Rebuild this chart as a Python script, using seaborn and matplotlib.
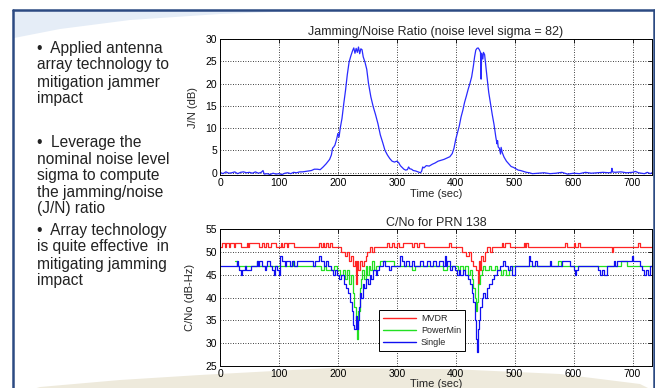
import matplotlib
matplotlib.use("Agg")
import matplotlib.pyplot as plt
from matplotlib.lines import Line2D
from matplotlib.patches import Polygon
import pandas as pd
import seaborn as sns

# J/N ratio (dB): (time sec, value)
jn_points = [
    (0, 0.1), (5, -0.2), (10, 0.2), (15, -0.1), (20, 0.0), (25, 0.2), (30, -0.2), (35, 0.1),
    (40, 0.2), (45, 0.0), (50, 0.1), (55, -0.1), (60, 0.2), (65, -0.1), (70, 0.1), (73, 0.5),
    (75, -0.3), (80, -0.2), (85, -0.4), (90, -0.1), (95, -0.3), (100, -0.2), (105, -0.4),
    (110, -0.1), (115, 0.0), (120, -0.2), (125, 0.1), (130, 0.0), (135, 0.2), (140, 0.2),
    (145, 0.3), (150, 0.4), (155, 0.5), (160, 0.8), (165, 0.8), (170, 0.7), (175, 1.3),
    (180, 2.0), (186, 3.0), (189, 4.0), (191, 5.5), (193, 5.8), (195, 6.2), (198, 7.6),
    (200, 8.8), (202, 8.0), (204, 10.0), (207, 12.2), (210, 15.5), (213, 18.5), (216, 22.0),
    (219, 24.8), (222, 26.2), (225, 27.4), (227, 28.0), (229, 26.8), (231, 27.9), (233, 27.0),
    (235, 28.2), (237, 26.7), (239, 27.8), (241, 27.6), (243, 26.0), (246, 24.8), (249, 23.2),
    (252, 20.0), (256, 17.0), (260, 14.8), (264, 13.0), (268, 11.0), (272, 8.5), (276, 6.8),
    (280, 5.0), (284, 4.0), (288, 3.2), (292, 2.6), (296, 2.4), (300, 2.6), (303, 2.3),
    (306, 1.6), (309, 1.2), (312, 0.8), (315, 0.6), (318, 0.7), (320, 1.3), (322, 0.9),
    (325, 0.8), (328, 0.5), (332, 0.4), (336, 0.2), (340, 0.0), (342, 0.3), (344, 1.3),
    (346, 1.1), (350, 1.6), (355, 1.5), (360, 1.9), (365, 2.2), (370, 2.6), (375, 2.8),
    (380, 3.0), (385, 3.3), (390, 3.6), (394, 4.3), (397, 5.5), (400, 7.5), (403, 9.0),
    (406, 10.5), (409, 12.5), (412, 14.0), (415, 15.8), (418, 17.2), (421, 18.7), (424, 20.0),
    (427, 21.5), (430, 24.0), (432, 26.0), (434, 27.5), (436, 27.9), (438, 28.0), (440, 27.6),
    (442, 27.0), (443, 21.0), (444, 26.8), (446, 25.5), (447, 27.0), (449, 26.5), (451, 24.0),
    (453, 21.5), (456, 18.0), (459, 15.5), (462, 13.0), (465, 10.8), (468, 8.0), (470, 6.5),
    (471, 7.2), (472, 5.8), (474, 5.5), (476, 4.2), (477, 5.7), (479, 4.5), (482, 3.5),
    (486, 2.6), (490, 2.0), (494, 1.4), (498, 1.2), (502, 0.9), (506, 0.6), (510, 0.5),
    (515, 0.3), (520, 0.1), (525, 0.0), (530, -0.2), (540, -0.1), (550, 0.0), (560, -0.2),
    (570, -0.1), (580, 0.1), (590, -0.3), (600, -0.1), (610, -0.2), (620, 0.1), (630, -0.1),
    (640, 0.0), (650, 0.1), (660, 0.0), (664, 0.1), (665, 1.0), (666, 0.2), (670, 0.1),
    (680, 0.2), (690, 0.0), (700, 0.1), (705, 0.3), (710, 0.0), (720, -0.2), (725, 0.1),
    (730, -0.2), (733, 0.0),
]

# C/No (dB-Hz) step series for PRN 138: (time sec, value)
mvdr_points = [
    (0, 51), (3, 52), (8, 51), (10, 52), (15, 51), (17, 52), (23, 51), (25, 52), (35, 51),
    (45, 52), (48, 51), (50, 52), (66, 51), (72, 52), (75, 51), (78, 52), (82, 51), (86, 52),
    (95, 51), (103, 52), (106, 51), (109, 52), (114, 51), (116, 52), (126, 51), (168, 52),
    (171, 51), (174, 52), (177, 51), (180, 52), (183, 51), (186, 52), (190, 51), (205, 50),
    (212, 49), (216, 50), (219, 48), (222, 49), (226, 47), (229, 48), (231, 43), (233, 48),
    (235, 46), (238, 48), (241, 47), (244, 48), (247, 49), (250, 50), (254, 51), (258, 50),
    (262, 51), (284, 52), (287, 51), (292, 52), (296, 51), (300, 52), (304, 51), (310, 52),
    (326, 51), (329, 52), (334, 51), (338, 52), (346, 51), (389, 52), (392, 51), (410, 50),
    (418, 49), (423, 50), (426, 48), (430, 47), (434, 46), (437, 43), (439, 48), (441, 46),
    (443, 49), (446, 48), (449, 50), (453, 51), (458, 50), (461, 51), (478, 52), (481, 51),
    (484, 52), (492, 51), (515, 52), (518, 51), (520, 52), (523, 51), (586, 52), (588, 51),
    (600, 52), (602, 51), (608, 52), (610, 51), (665, 50), (667, 51), (710, 52), (713, 51),
    (733, 51),
]
powermin_points = [
    (25, 48), (28, 47), (58, 47), (62, 48), (64, 47), (120, 47), (124, 48), (126, 47),
    (171, 46), (176, 47), (180, 46), (194, 47), (198, 46), (204, 45), (208, 46), (212, 44),
    (216, 46), (219, 43), (222, 45), (225, 41), (228, 38), (231, 35), (233, 31), (235, 37),
    (237, 42), (239, 44), (241, 46), (244, 44), (247, 47), (249, 45), (252, 47), (255, 46),
    (258, 48), (261, 46), (264, 47), (272, 48), (296, 47), (326, 46), (331, 47), (378, 46),
    (386, 47), (404, 46), (408, 47), (412, 46), (416, 47), (420, 45), (424, 46), (427, 44),
    (430, 42), (432, 40), (434, 37), (436, 39), (438, 43), (441, 45), (444, 46), (447, 47),
    (450, 46), (456, 47), (460, 46), (466, 47), (470, 46), (476, 45), (480, 46), (486, 45),
    (490, 46), (496, 47), (574, 48), (578, 47), (680, 48), (690, 47), (733, 47),
]
single_points = [
    (0, 47), (28, 48), (31, 47), (33, 46), (36, 45), (38, 46), (42, 47), (44, 46), (52, 47),
    (62, 48), (65, 47), (67, 48), (72, 47), (76, 46), (78, 47), (80, 48), (84, 47), (88, 46),
    (91, 45), (93, 47), (96, 46), (100, 45), (102, 49), (106, 48), (110, 47), (112, 48),
    (118, 47), (122, 48), (126, 47), (130, 48), (158, 47), (162, 48), (168, 49), (172, 48),
    (176, 47), (180, 48), (184, 47), (188, 46), (192, 45), (195, 46), (198, 45), (202, 44),
    (206, 45), (210, 43), (214, 42), (218, 41), (221, 39), (224, 37), (226, 34), (228, 33),
    (230, 36), (232, 33), (234, 35), (236, 38), (238, 41), (240, 40), (242, 43), (245, 42),
    (248, 44), (251, 43), (254, 45), (257, 44), (260, 46), (264, 45), (267, 46), (270, 47),
    (276, 48), (280, 47), (286, 46), (290, 47), (305, 49), (308, 48), (312, 47), (316, 48),
    (320, 47), (326, 48), (330, 47), (340, 48), (344, 47), (352, 48), (356, 47), (362, 48),
    (366, 47), (372, 48), (378, 47), (381, 49), (383, 47), (386, 48), (390, 46), (394, 47),
    (398, 46), (402, 45), (405, 46), (408, 45), (412, 46), (416, 45), (420, 44), (424, 43),
    (427, 41), (430, 39), (432, 35), (434, 31), (436, 28), (438, 33), (440, 35), (442, 38),
    (444, 40), (447, 41), (450, 40), (453, 42), (457, 43), (461, 44), (465, 45), (470, 46),
    (475, 47), (480, 48), (484, 47), (488, 46), (492, 47), (496, 45), (500, 47), (524, 49),
    (526, 48), (530, 47), (534, 48), (538, 47), (560, 48), (562, 47), (580, 48), (594, 47),
    (600, 46), (602, 45), (604, 46), (607, 47), (642, 46), (645, 45), (648, 46), (652, 45),
    (656, 47), (668, 48), (670, 47), (673, 48), (699, 49), (701, 48), (713, 47), (716, 46),
    (719, 45), (722, 46), (727, 45), (729, 47), (733, 47),
]

methods = ["MVDR", "PowerMin", "Single"]
method_colors = ["#ff2424", "#22e022", "#1010f0"]

bullets = [
    ["\u2022  Applied antenna", "array technology to", "mitigation jammer", "impact"],
    ["\u2022  Leverage the", "nominal noise level", "sigma to compute", "the jamming/noise", "(J/N) ratio"],
    ["\u2022  Array technology", "is quite effective  in", "mitigating jamming", "impact"],
]

sns.set_style("white")
plt.rcParams["font.family"] = ["Liberation Sans", "DejaVu Sans"]

jn_df = pd.DataFrame(jn_points, columns=["time", "jn"])
frames = []
for name, pts in zip(methods, [mvdr_points, powermin_points, single_points]):
    d = pd.DataFrame(pts, columns=["time", "cno"])
    d["method"] = name
    frames.append(d)
cno_df = pd.concat(frames, ignore_index=True)

W, H = 655, 388
fig = plt.figure(figsize=(W / 100, H / 100), dpi=100)
fig.patch.set_facecolor("white")


def fx(px):
    return px / W


def fy(py):
    return 1 - py / H


# slide decoration: light blue swoosh, beige swoosh, dark frame
blue_swoosh = [(14, 11), (300, 11), (220, 14), (130, 20), (60, 29), (14, 38)]
fig.patches.append(Polygon([(fx(x), fy(y)) for x, y in blue_swoosh], closed=True,
                           transform=fig.transFigure, facecolor="#e5edf7", edgecolor="none", zorder=-2))
beige_swoosh = [(30, 390), (40, 387), (120, 380), (200, 375), (330, 368), (450, 369),
                (560, 374), (640, 384), (652, 390)]
fig.patches.append(Polygon([(fx(x), fy(y)) for x, y in beige_swoosh], closed=True,
                           transform=fig.transFigure, facecolor="#eeeadc", edgecolor="none", zorder=-2))
frame_color = "#2c4a82"
fig.add_artist(Line2D([fx(13), fx(13)], [fy(10), fy(390)], color=frame_color, lw=1.8))
fig.add_artist(Line2D([fx(13), fx(654)], [fy(10), fy(10)], color=frame_color, lw=1.8))
fig.add_artist(Line2D([fx(653.5), fx(653.5)], [fy(10), fy(390)], color=frame_color, lw=1.8))

# bullet text
line_ys = [[48, 65, 82, 98], [143, 160, 176, 193, 209], [230, 247, 264, 281]]
for lines, ys in zip(bullets, line_ys):
    for txt, y in zip(lines, ys):
        fig.text(fx(37), fy(y), txt, fontsize=11.2, color="#222222", va="center", ha="left")

ax1 = fig.add_axes([fx(220), fy(175), 432 / W, 136 / H])
ax2 = fig.add_axes([fx(220), fy(366), 432 / W, 137 / H])

sns.lineplot(data=jn_df, x="time", y="jn", ax=ax1, color="#2a2aff", lw=0.9,
             estimator=None, errorbar=None)

sns.lineplot(data=cno_df, x="time", y="cno", hue="method", hue_order=methods,
             palette=method_colors, ax=ax2, lw=0.9, drawstyle="steps-post",
             estimator=None, errorbar=None, legend=False)

for ax in (ax1, ax2):
    ax.set_xlim(0, 733)
    ax.set_xticks(range(0, 701, 100))
    ax.grid(True, color="black", linestyle=(0, (1, 2)), linewidth=0.6)
    ax.tick_params(direction="in", length=3, width=0.6, labelsize=7.5, pad=2,
                   top=True, right=True, colors="black")
    for s in ax.spines.values():
        s.set_color("black")
        s.set_linewidth(0.7)
    ax.set_facecolor("white")

ax1.set_xlabel("Time (sec)", fontsize=8, labelpad=1)
ax2.set_xlabel("Time (sec)", fontsize=8, labelpad=0)

ax1.set_ylim(-0.5, 30)
ax1.set_yticks(range(0, 31, 5))
ax1.set_ylabel("J/N (dB)", fontsize=8)
ax1.yaxis.set_label_coords(-0.05, 0.5)
ax1.set_title("Jamming/Noise Ratio (noise level sigma = 82)", fontsize=9, pad=3)

ax2.set_ylim(25, 55)
ax2.set_yticks(range(25, 56, 5))
ax2.set_ylabel("C/No (dB-Hz)", fontsize=8)
ax2.yaxis.set_label_coords(-0.057, 0.5)
ax2.set_title("C/No for PRN 138", fontsize=9, pad=2)

handles = [Line2D([0], [0], color=c, lw=1) for c in method_colors]
leg = ax2.legend(handles, methods, loc="lower left", bbox_to_anchor=(0.368, 0.109),
                 fontsize=6.5, frameon=True, fancybox=False, framealpha=1,
                 edgecolor="black", handlelength=3.6, handletextpad=0.6,
                 borderpad=0.45, labelspacing=0.35, borderaxespad=0)
leg.get_frame().set_linewidth(0.7)

fig.savefig("out.png", dpi=100)
